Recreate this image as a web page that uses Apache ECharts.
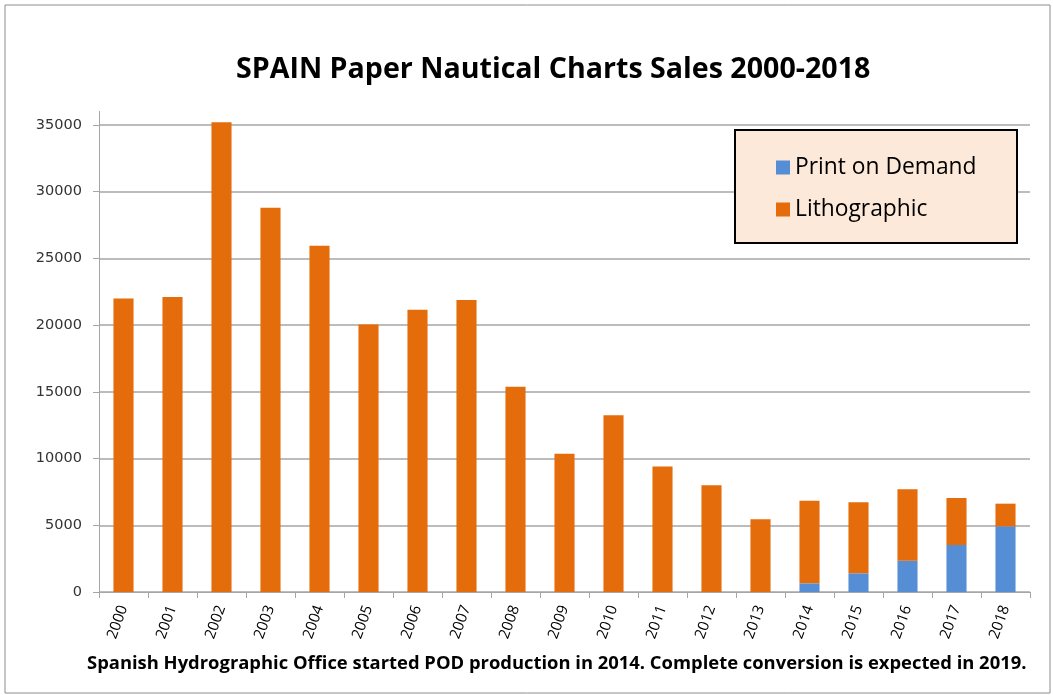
<!DOCTYPE html>
<html>
<head>
<meta charset="utf-8">
<script src="https://cdn.jsdelivr.net/npm/echarts@6/dist/echarts.min.js"></script>
<style>
  html, body { margin: 0; padding: 0; background: #fff; }
  #chart { width: 1053px; height: 695px; }
</style>
</head>
<body>
<div id="chart"></div>
<script>
// data
var years = ['2000', '2001', '2002', '2003', '2004', '2005', '2006', '2007', '2008', '2009',
             '2010', '2011', '2012', '2013', '2014', '2015', '2016', '2017', '2018'];
var printOnDemand = [0, 0, 0, 0, 0, 0, 0, 0, 0, 0, 0, 0, 0, 0, 650, 1400, 2350, 3520, 4920];
var lithographic = [22000, 22100, 35200, 28800, 25950, 20050, 21150, 21880, 15390, 10370,
                    13240, 9400, 8000, 5450, 6190, 5320, 5350, 3530, 1700];
var yTicks = { min: 0, max: 35000, interval: 5000 };

var chart = echarts.init(document.getElementById('chart'));

var option = {
    animation: false,
    backgroundColor: '#fff',
    title: {
        text: 'SPAIN Paper Nautical Charts Sales 2000-2018',
        left: 231,
        top: 50,
        textStyle: { fontFamily: 'Open Sans', fontWeight: 'bold', fontSize: 28.6, color: '#000' }
    },
    graphic: [
        // outer frame
        { type: 'rect', shape: { x: 5, y: 5, width: 1045, height: 688 },
          style: { fill: null, stroke: '#8c8c8c', lineWidth: 1 }, silent: true },
        // legend box
        { type: 'rect', z: 5, shape: { x: 735, y: 130, width: 282, height: 113 },
          style: { fill: '#fde9d9', stroke: '#000', lineWidth: 2 } },
        // small stub of the value axis above the top tick
        { type: 'line', shape: { x1: 99.5, y1: 111, x2: 99.5, y2: 125 },
          style: { stroke: '#a6a6a6', lineWidth: 1 } },
        // footnote
        { type: 'text', left: 87, top: 655,
          style: { text: 'Spanish Hydrographic Office started POD production in 2014. Complete conversion is expected in 2019.',
                   fontFamily: 'Open Sans', fontWeight: 'bold', fontSize: 18.4, fill: '#000' } }
    ],
    legend: {
        data: ['Print on Demand', 'Lithographic'],
        orient: 'vertical',
        left: 771,
        top: 151,
        z: 10,
        icon: 'rect',
        itemWidth: 14,
        itemHeight: 14,
        itemGap: 19,
        textStyle: { fontFamily: 'Open Sans', fontSize: 22.8, color: '#000' }
    },
    grid: { left: 99, right: 23, top: 125, bottom: 103 },
    xAxis: {
        type: 'category',
        data: years,
        axisLine: { lineStyle: { color: '#a6a6a6' } },
        axisTick: { show: true, length: 6, lineStyle: { color: '#a6a6a6' } },
        axisLabel: { rotate: 70, margin: 14, fontFamily: 'Open Sans', fontSize: 15, color: '#000' }
    },
    yAxis: {
        type: 'value',
        min: yTicks.min,
        max: yTicks.max,
        interval: yTicks.interval,
        axisLine: { show: true, lineStyle: { color: '#a6a6a6' } },
        axisTick: { show: true, length: 6, lineStyle: { color: '#a6a6a6' } },
        axisLabel: {
            margin: 17, fontFamily: 'DejaVu Sans', fontSize: 14.5, color: '#333',
            formatter: function (v) { return String(v); }
        },
        splitLine: { lineStyle: { color: '#a6a6a6', width: 1.5 } }
    },
    series: [
        {
            name: 'Print on Demand',
            type: 'bar',
            stack: 'sales',
            barWidth: '41%',
            clip: false,
            itemStyle: { color: '#558ed5' },
            data: printOnDemand
        },
        {
            name: 'Lithographic',
            type: 'bar',
            stack: 'sales',
            barWidth: '41%',
            clip: false,
            itemStyle: { color: '#e46c0a' },
            data: lithographic
        }
    ]
};

chart.setOption(option);

window.addEventListener('resize', function () {
    chart.resize();
});
</script>
</body>
</html>
